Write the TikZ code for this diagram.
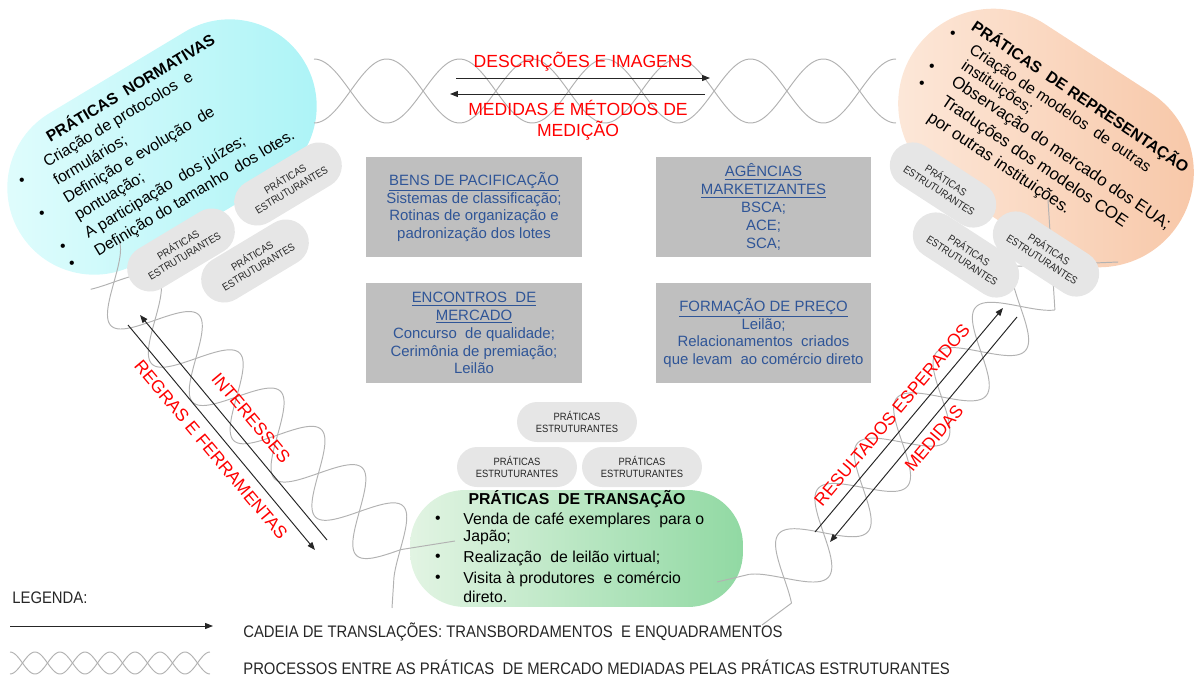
\documentclass[tikz,border=0pt]{standalone}
\usepackage{fontspec}
\setmainfont{Liberation Sans}
\newfontfamily\narrowfont[FakeStretch=0.89]{Liberation Sans}
\usetikzlibrary{positioning,calc,arrows.meta}

\definecolor{cinzacaixa}{RGB}{191,191,191}
\definecolor{azul}{RGB}{47,85,151}
\definecolor{cinzaestr}{RGB}{230,230,230}
\definecolor{cinzatranca}{RGB}{178,178,178}
\definecolor{normA}{RGB}{228,253,253}
\definecolor{normB}{RGB}{168,243,246}
\definecolor{repA}{RGB}{253,235,222}
\definecolor{repB}{RGB}{247,196,163}
\definecolor{tranA}{RGB}{226,244,227}
\definecolor{tranB}{RGB}{145,217,163}

\tikzset{
  caixa/.style={fill=cinzacaixa, text=azul, minimum width=4.32cm, minimum height=2cm, align=center, font=\fontsize{8.5}{10.2}\selectfont},
  estr/.style={fill=cinzaestr, rounded corners=0.46cm, minimum width=2.36cm, minimum height=0.92cm, align=center, inner sep=0pt, font=\narrowfont\fontsize{6}{7}\selectfont, text=black!85},
  estrh/.style={estr, rounded corners=0.4cm, minimum width=2.4cm, minimum height=0.8cm},
  rotulo/.style={text=red, font=\fontsize{10}{12}\selectfont, inner sep=0pt, align=center},
  linha/.style={anchor=base west, inner sep=0pt, font=\fontsize{9}{11}\selectfont},
  bola/.style={inner sep=0pt, font=\fontsize{9}{11}\selectfont},
  fluxo/.style={-{Triangle[length=4.5pt,width=3.4pt]}, line width=0.55pt, black!85},
  tranca/.style={draw=cinzatranca, line width=0.55pt},
  legenda/.style={anchor=west, inner sep=0pt, font=\narrowfont\fontsize{9.5}{11}\selectfont, text=black!85},
}

\begin{document}
\begin{tikzpicture}[x=0.02cm, y=-0.02cm]
\useasboundingbox (0,0) rectangle (1197,680);

% praticas (fundos)
\node[rotate=31, left color=normA, right color=normB, minimum width=6.64cm, minimum height=3.48cm, rounded corners=1.74cm] (norm) at (162,147) {};
\node[rotate=-33, left color=repA, right color=repB, minimum width=6.32cm, minimum height=3.8cm, rounded corners=1.9cm] (rep) at (1046,138) {};
\node[left color=tranA, right color=tranB, minimum width=6.66cm, minimum height=2.34cm, rounded corners=1.1cm] (tran) at (576.5,548.5) {};

% trancas
\draw[tranca] plot[domain=314:896, samples=200] (\x, {91+32*cos((\x-314)/72.75*180)});
\draw[tranca] plot[domain=314:896, samples=200] (\x, {91-32*cos((\x-314)/72.75*180)});

\begin{scope}[shift={(114,282)}, rotate=-43.1]
\draw[tranca] plot[domain=-24:392, samples=200] (\x, {34*sin(\x/56*180)});
\draw[tranca] plot[domain=-12:410, samples=200] (\x, {-34*sin(\x/56*180)});
\end{scope}
\coordinate (lp1) at (400.2,549.7);
\coordinate (lp2) at (455,541);
\coordinate (lp3) at (393.6,583);
\coordinate (lp4) at (392,608);
\draw[tranca] (lp1) -- (lp2);
\draw[tranca] (lp3) -- (lp4);

\begin{scope}[shift={(784,578)}, rotate=49]
\draw[tranca] plot[domain=-20:380, samples=200] (\x, {33*sin(\x/60*180)});
\draw[tranca] plot[domain=-14:385, samples=200] (\x, {-33*sin(\x/60*180)});
\end{scope}
\coordinate (rp1) at (749.3,574.3);
\coordinate (rp2) at (717,582);
\coordinate (rp3) at (791.5,603.1);
\coordinate (rp4) at (762,625);
\coordinate (rp5) at (1054.9,309.9);
\coordinate (rp6) at (1048,200);
\coordinate (rp7) at (1012.5,266.4);
\coordinate (rp8) at (1118,262);
\draw[tranca] (rp1) -- (rp2);
\draw[tranca] (rp3) -- (rp4);
\draw[tranca] (rp5) -- (rp6);
\draw[tranca] (rp7) -- (rp8);

% pratica normativa
\node[linha, rotate=31, font=\bfseries\fontsize{9}{11}\selectfont] (normtit) at (50,143) {PRÁTICAS\ \ NORMATIVAS};
\node[linha, rotate=31] (norm1) at (47,168) {Criação de protocolos\ \ e};
\node[linha, rotate=31] (norm2) at (57,186) {formulários;};
\node[linha, rotate=31] (norm3) at (67,204) {Definição e evolução\ \ de};
\node[linha, rotate=31] (norm4) at (78,221) {pontuação;};
\node[linha, rotate=31] (norm5) at (88,239) {A participação\ \ dos juízes;};
\node[linha, rotate=31] (norm6) at (98,257) {Definição do tamanho\ \ dos lotes.};
\node[bola] (nb1) at (22,182) {•};
\node[bola] (nb2) at (42,215) {•};
\node[bola] (nb3) at (63,248) {•};
\node[bola] (nb4) at (72,265) {•};

% pratica de representacao
\node[linha, rotate=-34, font=\bfseries\fontsize{9}{11}\selectfont] (reptit) at (970,29) {PRÁTICAS\ \ DE REPRESENTAÇÃO};
\node[linha, rotate=-34] (rep1) at (968,52) {Criação de modelos\ \ de outras};
\node[linha, rotate=-34] (rep2) at (960,68) {instituições;};
\node[linha, rotate=-34, font=\fontsize{9.6}{11}\selectfont] (rep3) at (950,84) {Observação do mercado dos EUA;};
\node[linha, rotate=-34, font=\fontsize{9.6}{11}\selectfont] (rep4) at (940,104) {Traduções dos modelos COE};
\node[linha, rotate=-34, font=\fontsize{9.6}{11}\selectfont] (rep5) at (926,120) {por outras instituições.};
\node[bola] (rb1) at (953,35) {•};
\node[bola] (rb2) at (932,68) {•};
\node[bola] (rb3) at (922,85) {•};

% praticas estruturantes
\node[estr, rotate=31] (estrA) at (288,184) {PRÁTICAS\\ESTRUTURANTES};
\node[estr, rotate=31] (estrB) at (181,250) {PRÁTICAS\\ESTRUTURANTES};
\node[estr, rotate=31] (estrC) at (255,261) {PRÁTICAS\\ESTRUTURANTES};
\node[estr, rotate=-33] (estrD) at (943,185) {PRÁTICAS\\ESTRUTURANTES};
\node[estr, rotate=-33] (estrE) at (966,255) {PRÁTICAS\\ESTRUTURANTES};
\node[estr, rotate=-33] (estrF) at (1046,254) {PRÁTICAS\\ESTRUTURANTES};
\node[estrh] (estrG) at (577,422) {PRÁTICAS\\ESTRUTURANTES};
\node[estrh] (estrH) at (517,467) {PRÁTICAS\\ESTRUTURANTES};
\node[estrh] (estrI) at (642,467) {PRÁTICAS\\ESTRUTURANTES};

% pratica de transacao
\node[inner sep=0pt, anchor=base, font=\bfseries\fontsize{9}{11}\selectfont] (trantit) at (577,504) {PRÁTICAS\ \ DE TRANSAÇÃO};
\node[linha] (tran1) at (463,524) {Venda de café exemplares\ \ para o};
\node[linha] (tran2) at (463,541) {Japão;};
\node[linha] (tran3) at (463,562) {Realização\ \ de leilão virtual;};
\node[linha] (tran4) at (463,583) {Visita à produtores\ \ e comércio};
\node[linha] (tran5) at (463,602) {direto.};
\node[bola] (tb1) at (438,520) {•};
\node[bola] (tb2) at (438,558) {•};
\node[bola] (tb3) at (438,579) {•};

% caixas centrais
\node[caixa] (bens) at (474,207) {\underline{BENS DE PACIFICAÇÃO}\\Sistemas de classificação;\\Rotinas de organização e\\padronização dos lotes};
\node[caixa] (agen) at (763.5,207) {\underline{AGÊNCIAS}\\\underline{MARKETIZANTES}\\BSCA;\\ACE;\\SCA;};
\node[caixa] (enco) at (474,333) {\underline{ENCONTROS\ \ DE}\\\underline{MERCADO}\\Concurso\ \ de qualidade;\\Cerimônia de premiação;\\Leilão};
\node[caixa] (form) at (763.5,333) {\underline{FORMAÇÃO DE PREÇO}\\Leilão;\\Relacionamentos\ \ criados\\que levam\ \ ao comércio direto};

% translacoes
\coordinate (t1s) at (456,78);
\coordinate (t1e) at (710,78);
\coordinate (t2s) at (705,94);
\coordinate (t2e) at (450,94);
\draw[fluxo] (t1s) -- (t1e);
\draw[fluxo] (t2s) -- (t2e);
\node[rotulo] (desc) at (583,62) {DESCRIÇÕES E IMAGENS};
\node[rotulo] (medm) at (578,120) {MEDIDAS E MÉTODOS DE\\MEDIÇÃO};

\coordinate (l1s) at (327,540);
\coordinate (l1e) at (140,315);
\coordinate (l2s) at (128,325);
\coordinate (l2e) at (315,550);
\draw[fluxo] (l1s) -- (l1e);
\draw[fluxo] (l2s) -- (l2e);
\node[rotulo, rotate=-50] (inte) at (251,418) {INTERESSES};
\node[rotulo, rotate=-50] (regr) at (211,450) {REGRAS E FERRAMENTAS};

\coordinate (r1s) at (815,532);
\coordinate (r1e) at (1003,308);
\coordinate (r2s) at (1017,317);
\coordinate (r2e) at (830,542);
\draw[fluxo] (r1s) -- (r1e);
\draw[fluxo] (r2s) -- (r2e);
\node[rotulo, rotate=50] (resu) at (892,415) {RESULTADOS ESPERADOS};
\node[rotulo, rotate=50] (medi) at (934,438) {MEDIDAS};

% legenda
\node[legenda] (leg) at (12,598) {LEGENDA:};
\coordinate (g1s) at (10,626);
\coordinate (g1e) at (213,626);
\draw[fluxo] (g1s) -- (g1e);
\draw[tranca] plot[domain=10:210, samples=120] (\x, {663+11*cos((\x-10)/25*180)});
\draw[tranca] plot[domain=10:210, samples=120] (\x, {663-11*cos((\x-10)/25*180)});
\node[legenda] (legcad) at (243,632) {CADEIA DE TRANSLAÇÕES: TRANSBORDAMENTOS\ \ E ENQUADRAMENTOS};
\node[legenda] (legproc) at (243,667) {PROCESSOS ENTRE AS PRÁTICAS\ \ DE MERCADO MEDIADAS PELAS PRÁTICAS ESTRUTURANTES};
\end{tikzpicture}
\end{document}
